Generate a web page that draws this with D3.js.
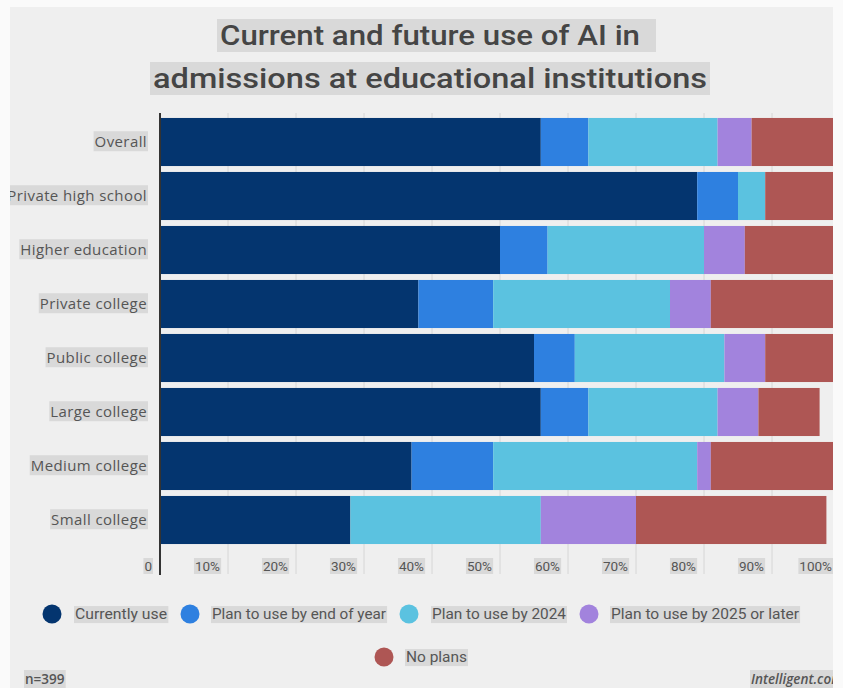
<!DOCTYPE html>
<html>
<head>
<meta charset="utf-8">
<script src="https://cdn.jsdelivr.net/npm/d3@7"></script>
<style>
  html, body { margin: 0; padding: 0; background: #fafafa; }
  svg { display: block; }
</style>
</head>
<body>
<svg id="chart" width="843" height="688"></svg>
<script>
// Survey shares (percent of respondents) per institution type
const categories = ["Overall", "Private high school", "Higher education", "Private college",
                    "Public college", "Large college", "Medium college", "Small college"];
const currentlyUse = [56, 79, 50, 38, 55, 56, 37, 28];
const planEndOfYear = [7, 6, 7, 11, 6, 7, 12, 0];
const planBy2024 = [19, 4, 23, 26, 22, 19, 30, 28];
const planBy2025 = [5, 0, 6, 6, 6, 6, 2, 14];
const noPlans = [13, 11, 14, 19, 11, 9, 19, 28];

const seriesNames = ["Currently use", "Plan to use by end of year", "Plan to use by 2024",
                     "Plan to use by 2025 or later", "No plans"];
const seriesColors = ["#04356f", "#2e80e0", "#5bc2e0", "#a283dd", "#ae5654"];
const tickValues = [0, 10, 20, 30, 40, 50, 60, 70, 80, 90, 100];
const tickLabels = ["0", "10%", "20%", "30%", "40%", "50%", "60%", "70%", "80%", "90%", "100%"];
const titleLines = ["Current and future use of AI in", "admissions at educational institutions"];
const sampleNote = "n=399";
const sourceNote = "Intelligent.com";

const seriesValues = [currentlyUse, planEndOfYear, planBy2024, planBy2025, noPlans];
const keys = seriesNames;
const rows = categories.map((c, i) => {
  const r = { category: c };
  keys.forEach((k, j) => { r[k] = seriesValues[j][i]; });
  return r;
});

const svg = d3.select("#chart");
const hl = "#d9d9d9";
const textColor = "#555";

// framed panel
svg.append("defs").append("clipPath").attr("id", "frame")
  .append("rect").attr("x", 10).attr("y", 7).attr("width", 823).attr("height", 681);
svg.append("rect").attr("x", 10).attr("y", 7).attr("width", 823).attr("height", 681).attr("fill", "#efefef");

const g = svg.append("g").attr("clip-path", "url(#frame)");

const x = d3.scaleLinear().domain([0, 100]).range([160, 840]);
const y = d3.scaleBand().domain(categories).range([115, 547]).paddingInner(0.11).paddingOuter(0.055);

// helper: gray highlight box behind a text node
function highlight(sel, padX, padY, extraRight) {
  sel.each(function () {
    const b = this.getBBox();
    d3.select(this.parentNode).insert("rect", () => this)
      .attr("x", b.x - padX).attr("y", b.y - padY)
      .attr("width", b.width + padX * 2 + (extraRight || 0)).attr("height", b.height + padY * 2)
      .attr("fill", hl);
  });
}

// title
const titleG = g.append("g");
titleLines.forEach((t, i) => {
  const tt = titleG.append("g").append("text")
    .attr("x", 430).attr("y", 45 + i * 43)
    .attr("text-anchor", "middle")
    .attr("font-family", "Roboto, sans-serif")
    .attr("font-weight", 500)
    .attr("font-size", 28)
    .attr("fill", "#454545")
    .attr("textLength", i === 0 ? 420 : 554)
    .attr("lengthAdjust", "spacingAndGlyphs")
    .text(t);
  highlight(tt, 3, 0, i === 0 ? 13 : 0);
});

// gridlines
g.append("g").selectAll("line").data(tickValues.slice(1)).join("line")
  .attr("x1", d => x(d)).attr("x2", d => x(d))
  .attr("y1", 113).attr("y2", 574)
  .attr("stroke", "#d6d6d6").attr("stroke-width", 1);

// stacked bars
const stacked = d3.stack().keys(keys)(rows);
const color = d3.scaleOrdinal().domain(keys).range(seriesColors);
g.append("g").selectAll("g").data(stacked).join("g")
  .attr("fill", d => color(d.key))
  .selectAll("rect").data(d => d.filter(p => p[1] > p[0])).join("rect")
  .attr("x", d => x(d[0]))
  .attr("width", d => x(d[1]) - x(d[0]))
  .attr("y", d => y(d.data.category))
  .attr("height", y.bandwidth());

// zero axis line
g.append("line").attr("x1", x(0)).attr("x2", x(0)).attr("y1", 113).attr("y2", 575)
  .attr("stroke", "#333").attr("stroke-width", 2);

// category labels
const catG = g.append("g");
categories.forEach(c => {
  const t = catG.append("g").append("text")
    .attr("x", 147).attr("y", y(c) + y.bandwidth() / 2)
    .attr("dy", "0.35em")
    .attr("text-anchor", "end")
    .attr("font-family", "'Open Sans', sans-serif")
    .attr("font-size", 15)
    .attr("letter-spacing", 0.4)
    .attr("fill", textColor)
    .text(c);
  highlight(t, 1, 0);
});

// x tick labels, placed just left of each gridline
const tickG = g.append("g");
tickValues.forEach((v, i) => {
  const t = tickG.append("g").append("text")
    .attr("x", x(v) - 8).attr("y", 571)
    .attr("text-anchor", "end")
    .attr("font-family", "Roboto, sans-serif")
    .attr("font-size", 13.5)
    .attr("fill", textColor)
    .text(tickLabels[i]);
  highlight(t, 1, 0);
});

// legend
const legendPos = [
  { cx: 52, cy: 614, tx: 75, w: 92 },
  { cx: 190, cy: 614, tx: 212, w: 174 },
  { cx: 409, cy: 614, tx: 432, w: 134 },
  { cx: 589, cy: 614, tx: 611, w: 188 },
  { cx: 384, cy: 657, tx: 406, w: 61 }
];
const legG = g.append("g");
seriesNames.forEach((name, i) => {
  const p = legendPos[i];
  const item = legG.append("g");
  item.append("circle").attr("cx", p.cx).attr("cy", p.cy).attr("r", 9.5).attr("fill", seriesColors[i]);
  const t = item.append("text")
    .attr("x", p.tx).attr("y", p.cy).attr("dy", "0.35em")
    .attr("font-family", "Roboto, sans-serif")
    .attr("font-size", 14.5)
    .attr("fill", textColor)
    .attr("textLength", p.w).attr("lengthAdjust", "spacingAndGlyphs")
    .text(name);
  highlight(t, 1, 0);
});

// footer notes
const nT = g.append("g").append("text")
  .attr("x", 25).attr("y", 684)
  .attr("font-family", "'Open Sans', sans-serif").attr("font-weight", 600)
  .attr("font-size", 13.5).attr("fill", textColor).text(sampleNote);
highlight(nT, 1, 0);
const sT = g.append("g").append("text")
  .attr("x", 751).attr("y", 684)
  .attr("font-family", "'Open Sans', sans-serif").attr("font-weight", 600).attr("font-style", "italic")
  .attr("font-size", 13.5).attr("fill", textColor).text(sourceNote);
highlight(sT, 1, 0);
</script>
</body>
</html>
